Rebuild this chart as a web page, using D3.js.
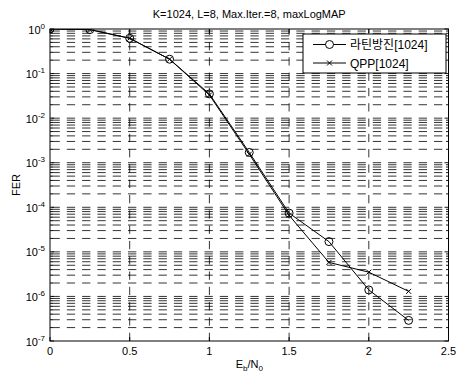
<!DOCTYPE html>
<html><head><meta charset="utf-8">
<script src="https://cdn.jsdelivr.net/npm/d3@7"></script>
<style>
body{margin:0;background:#fff;}
text{font-family:"Liberation Sans",Arial,Helvetica,"Noto Sans CJK KR",sans-serif;}
</style></head>
<body><svg id="c" width="456" height="378"></svg>
<script>
const ebn0 = [0, 0.25, 0.5, 0.75, 1.0, 1.25, 1.5, 1.75, 2.0, 2.25];
const ferLatin = [1, 0.97, 0.62, 0.21, 0.035, 1.7e-3, 7.4e-5, 1.7e-5, 1.4e-6, 2.9e-7];
const ferQPP   = [1, 0.97, 0.62, 0.21, 0.033, 1.55e-3, 6.6e-5, 5.8e-6, 3.5e-6, 1.3e-6];
const xTicks = [0, 0.5, 1, 1.5, 2, 2.5];
const yExponents = [0, -1, -2, -3, -4, -5, -6, -7];
const seriesNames = ["라틴방진[1024]", "QPP[1024]"];
const titleText = "K=1024, L=8, Max.Iter.=8, maxLogMAP";

const svg = d3.select("#c");
const L = 50, R = 448.5, T = 29, B = 341;
const x = d3.scaleLinear().domain([0, 2.5]).range([L, R]);
const y = d3.scaleLog().domain([1e-7, 1]).range([B, T]);

// grid values
const minorVals = [];
for (let k = -7; k < 0; k++) for (let m = 1; m <= 9; m++) minorVals.push(m * Math.pow(10, k));

const g = svg.append("g");
// horizontal dashed grid
g.selectAll("line.hg").data(minorVals.filter(v => v > 1e-7)).enter().append("line")
  .attr("x1", L).attr("x2", R).attr("y1", d => y(d)).attr("y2", d => y(d))
  .attr("stroke", "#000").attr("stroke-width", 0.8)
  .attr("stroke-dasharray", "8.3,7").attr("stroke-dashoffset", -1.5);
// vertical dashed grid
g.selectAll("line.vg").data(xTicks.filter(v => v > 0 && v < 2.5)).enter().append("line")
  .attr("x1", d => x(d)).attr("x2", d => x(d)).attr("y1", B).attr("y2", T)
  .attr("stroke", "#000").attr("stroke-width", 0.8)
  .attr("stroke-dasharray", "8.3,7");

// ticks (inward) on all sides
xTicks.forEach(v => {
  g.append("line").attr("x1", x(v)).attr("x2", x(v)).attr("y1", B).attr("y2", B - 4).attr("stroke", "#000");
  g.append("line").attr("x1", x(v)).attr("x2", x(v)).attr("y1", T).attr("y2", T + 4).attr("stroke", "#000");
});
minorVals.concat([1]).forEach(v => {
  const major = Math.abs(Math.log10(v) - Math.round(Math.log10(v))) < 1e-9;
  const len = major ? 4 : 2.5;
  g.append("line").attr("x1", L).attr("x2", L + len).attr("y1", y(v)).attr("y2", y(v)).attr("stroke", "#000").attr("stroke-width", 0.9);
  g.append("line").attr("x1", R).attr("x2", R - len).attr("y1", y(v)).attr("y2", y(v)).attr("stroke", "#000").attr("stroke-width", 0.9);
});

// clip
svg.append("clipPath").attr("id", "pc").append("rect").attr("x", L).attr("y", T).attr("width", R - L).attr("height", B - T);
const pg = svg.append("g").attr("clip-path", "url(#pc)");
const line = d3.line().x((d, i) => x(ebn0[i])).y(d => y(d));
pg.append("path").attr("d", line(ferLatin)).attr("fill", "none").attr("stroke", "#000").attr("stroke-width", 1);
pg.append("path").attr("d", line(ferQPP)).attr("fill", "none").attr("stroke", "#000").attr("stroke-width", 1);
pg.selectAll("circle.m").data(ferLatin).enter().append("circle")
  .attr("cx", (d, i) => x(ebn0[i])).attr("cy", d => y(d)).attr("r", 4)
  .attr("fill", "none").attr("stroke", "#000").attr("stroke-width", 1);
const xs = 2.5;
pg.selectAll("path.xm").data(ferQPP).enter().append("path")
  .attr("d", (d, i) => { const cx = x(ebn0[i]), cy = y(d);
    return `M${cx - xs},${cy - xs}L${cx + xs},${cy + xs}M${cx - xs},${cy + xs}L${cx + xs},${cy - xs}`; })
  .attr("stroke", "#000").attr("stroke-width", 1);

// box
svg.append("rect").attr("x", L).attr("y", T).attr("width", R - L).attr("height", B - T)
  .attr("fill", "none").attr("stroke", "#000").attr("stroke-width", 1);

// x tick labels
svg.selectAll("text.xt").data(xTicks).enter().append("text")
  .attr("x", d => x(d)).attr("y", 355).attr("text-anchor", "middle")
  .attr("font-size", 11).text(d => d);
// y tick labels
yExponents.forEach(e => {
  const t = svg.append("text").attr("x", 45).attr("y", y(Math.pow(10, e)) + 4.5)
    .attr("text-anchor", "end").attr("font-size", 11);
  t.append("tspan").text("10");
  t.append("tspan").attr("dy", -5).attr("font-size", 8).text(e);
});

// title
svg.append("text").attr("x", (L + R) / 2).attr("y", 18).attr("text-anchor", "middle")
  .attr("font-size", 11).text(titleText);
// x label
const xl = svg.append("text").attr("x", (L + R) / 2).attr("y", 368).attr("text-anchor", "middle").attr("font-size", 11);
xl.append("tspan").text("E");
xl.append("tspan").attr("dy", 3).attr("font-size", 8).text("b");
xl.append("tspan").attr("dy", -3).text("/N");
xl.append("tspan").attr("dy", 3).attr("font-size", 8).text("0");
// y label
svg.append("text").attr("transform", `translate(20,${(T + B) / 2}) rotate(-90)`)
  .attr("text-anchor", "middle").attr("font-size", 11).text("FER");

// legend
const lg = svg.append("g");
lg.append("rect").attr("x", 303).attr("y", 34).attr("width", 143).attr("height", 39)
  .attr("fill", "#fff").attr("stroke", "#000").attr("stroke-width", 1);
const rows = [44.5, 63];
rows.forEach((ry, i) => {
  lg.append("line").attr("x1", 313).attr("x2", 346).attr("y1", ry).attr("y2", ry).attr("stroke", "#000");
  if (i === 0) lg.append("circle").attr("cx", 329.5).attr("cy", ry).attr("r", 4).attr("fill", "#fff").attr("stroke", "#000");
  else lg.append("path").attr("d", `M${329.5 - xs},${ry - xs}L${329.5 + xs},${ry + xs}M${329.5 - xs},${ry + xs}L${329.5 + xs},${ry - xs}`).attr("stroke", "#000");
  lg.append("text").attr("x", 350).attr("y", ry + 4.5).attr("font-size", 12).text(seriesNames[i]);
});
</script></body></html>
